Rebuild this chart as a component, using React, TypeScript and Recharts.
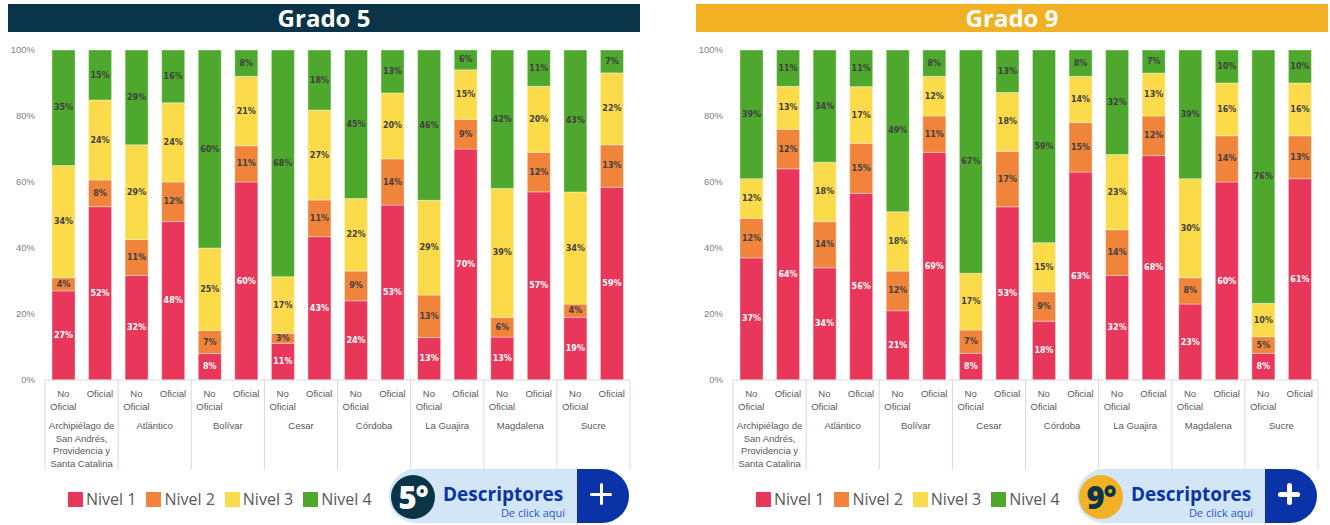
import { BarChart, Bar, XAxis, YAxis, LabelList } from 'recharts'

const departamentos = [
  'Archipiélago de San Andrés, Providencia y Santa Catalina',
  'Atlántico',
  'Bolívar',
  'Cesar',
  'Córdoba',
  'La Guajira',
  'Magdalena',
  'Sucre',
]
const sectores = ['No Oficial', 'Oficial']
const niveles = ['Nivel 1', 'Nivel 2', 'Nivel 3', 'Nivel 4']
const yTicks = [0, 0.2, 0.4, 0.6, 0.8, 1]

// order: for each departamento, No Oficial then Oficial
const grado5Nivel1 = [27, 52, 32, 48, 8, 60, 11, 43, 24, 53, 13, 70, 13, 57, 19, 59]
const grado5Nivel2 = [4, 8, 11, 12, 7, 11, 3, 11, 9, 14, 13, 9, 6, 12, 4, 13]
const grado5Nivel3 = [34, 24, 29, 24, 25, 21, 17, 27, 22, 20, 29, 15, 39, 20, 34, 22]
const grado5Nivel4 = [35, 15, 29, 16, 60, 8, 68, 18, 45, 13, 46, 6, 42, 11, 43, 7]

const grado9Nivel1 = [37, 64, 34, 56, 21, 69, 8, 53, 18, 63, 32, 68, 23, 60, 8, 61]
const grado9Nivel2 = [12, 12, 14, 15, 12, 11, 7, 17, 9, 15, 14, 12, 8, 14, 5, 13]
const grado9Nivel3 = [12, 13, 18, 17, 18, 12, 17, 18, 15, 14, 23, 13, 30, 16, 10, 16]
const grado9Nivel4 = [39, 11, 34, 11, 49, 8, 67, 13, 59, 8, 32, 7, 39, 10, 76, 10]

const colors = {
  n1: '#e8375a',
  n2: '#f0843b',
  n3: '#fcdb4b',
  n4: '#4ea82d',
  axis: '#d9d9d9',
  tickText: '#595959',
  yText: '#7f7f7f',
  darkLabel: '#404040',
  navy: '#0a3548',
  gold: '#f2b124',
  blue: '#0a33a8',
  pill: '#d3e6f8',
}
const nivelKeys = ['n1', 'n2', 'n3', 'n4']
const nivelColors = [colors.n1, colors.n2, colors.n3, colors.n4]
const labelColors = ['#ffffff', colors.darkLabel, colors.darkLabel, colors.darkLabel]

const CHART_W = 640
const CHART_H = 525
const Y_AXIS_W = 45
const MARGIN_RIGHT = 10
const PLOT_TOP = 50
const PLOT_BOTTOM = 380
const X_AXIS_H = 90
const SEP_BOTTOM = 470
const AXIS_FONT = '"Liberation Sans", Arial, sans-serif'

function buildRows(series: number[][]) {
  const rows: any[] = []
  departamentos.forEach((dep, d) => {
    sectores.forEach((sec, s) => {
      const i = d * 2 + s
      rows.push({
        id: `${dep}|${sec}`,
        departamento: dep,
        sector: sec,
        n1: series[0][i],
        n2: series[1][i],
        n3: series[2][i],
        n4: series[3][i],
      })
    })
  })
  return rows
}

function wrap(text: string, max: number) {
  const lines: string[] = []
  let cur = ''
  text.split(' ').forEach((w) => {
    if (!cur) cur = w
    else if ((cur + ' ' + w).length <= max) cur += ' ' + w
    else {
      lines.push(cur)
      cur = w
    }
  })
  if (cur) lines.push(cur)
  return lines
}

function CategoryTick(props: any) {
  const { x, index, rows } = props
  const row = rows[index]
  if (!row) return null
  const slot = (CHART_W - Y_AXIS_W - MARGIN_RIGHT) / rows.length
  const isFirst = index % 2 === 0
  const isLast = index === rows.length - 1
  const subLines = wrap(row.sector, 8)
  const groupLines = wrap(row.departamento, 15)
  return (
    <g>
      <text
        textAnchor="middle"
        fontSize={9.5}
        fontFamily={AXIS_FONT}
        fill={colors.tickText}
      >
        {subLines.map((l, i) => (
          <tspan key={i} x={x} y={PLOT_BOTTOM + 17 + i * 12.5}>
            {l}
          </tspan>
        ))}
      </text>
      {isFirst && (
        <>
          <line
            x1={x - slot / 2}
            x2={x - slot / 2}
            y1={PLOT_BOTTOM}
            y2={SEP_BOTTOM}
            stroke={colors.axis}
          />
          <text
            textAnchor="middle"
            fontSize={9.5}
            fontFamily={AXIS_FONT}
            fill={colors.tickText}
          >
            {groupLines.map((l, i) => (
              <tspan key={i} x={x + slot / 2} y={PLOT_BOTTOM + 49 + i * 12.5}>
                {l}
              </tspan>
            ))}
          </text>
        </>
      )}
      {isLast && (
        <line
          x1={x + slot / 2}
          x2={x + slot / 2}
          y1={PLOT_BOTTOM}
          y2={SEP_BOTTOM}
          stroke={colors.axis}
        />
      )}
    </g>
  )
}

function renderLabel(p: any, rows: any[], key: string, fill: string) {
  const vb = p.viewBox ?? p
  const value = typeof p.value === 'number' ? p.value : rows[p.index]?.[key]
  if (vb == null || value == null) return null
  const cx = vb.x + vb.width / 2
  const cy = vb.y + vb.height / 2
  return (
    <text
      x={cx}
      y={cy}
      textAnchor="middle"
      dominantBaseline="central"
      fontSize={8}
      fontWeight="bold"
      fontFamily='"DejaVu Sans", Verdana, sans-serif'
      fill={fill}
    >
      {`${value}%`}
    </text>
  )
}

interface PanelProps {
  left: number
  title: string
  headerBg: string
  series: number[][]
  badgeText: string
  badgeBg: string
  badgeColor: string
  plusWeight: number
}

function Panel({ left, title, headerBg, series, badgeText, badgeBg, badgeColor, plusWeight }: PanelProps) {
  const rows = buildRows(series)
  return (
    <div style={{ position: 'absolute', left, top: 0, width: CHART_W, height: CHART_H }}>
      <div
        style={{
          position: 'absolute',
          left: 8,
          top: 4,
          width: 632,
          height: 28,
          background: headerBg,
          color: '#ffffff',
          fontFamily: '"Open Sans", sans-serif',
          fontWeight: 700,
          fontSize: 24,
          lineHeight: '28px',
          textAlign: 'center',
        }}
      >
        {title}
      </div>

      <div style={{ position: 'absolute', left: 0, top: 0 }}>
        <BarChart
          width={CHART_W}
          height={CHART_H}
          data={rows}
          stackOffset="expand"
          margin={{ top: PLOT_TOP, right: MARGIN_RIGHT, bottom: CHART_H - PLOT_BOTTOM - X_AXIS_H, left: 0 }}
        >
          <XAxis
            dataKey="id"
            height={X_AXIS_H}
            interval={0}
            tickLine={false}
            axisLine={{ stroke: colors.axis }}
            tick={(p: any) => <CategoryTick {...p} rows={rows} />}
          />
          <YAxis
            width={Y_AXIS_W}
            domain={[0, 1]}
            ticks={yTicks}
            axisLine={false}
            tickLine={false}
            tickMargin={4}
            tickFormatter={(v: number) => `${Math.round(v * 100)}%`}
            tick={{ fontSize: 9.5, fill: colors.yText, fontFamily: AXIS_FONT }}
          />
          {nivelKeys.map((k, j) => (
            <Bar
              key={k}
              dataKey={k}
              name={niveles[j]}
              stackId="a"
              fill={nivelColors[j]}
              stroke="#ffffff"
              strokeOpacity={0.45}
              strokeWidth={0.8}
              barSize={23}
              isAnimationActive={false}
            >
              <LabelList dataKey={k} content={(p: any) => renderLabel(p, rows, k, labelColors[j])} />
            </Bar>
          ))}
        </BarChart>
      </div>

      {/* legend */}
      <div
        style={{
          position: 'absolute',
          left: 68,
          top: 488,
          display: 'flex',
          alignItems: 'center',
          gap: 10,
          fontFamily: '"Open Sans", sans-serif',
          fontSize: 16,
          color: colors.tickText,
          height: 22,
        }}
      >
        {niveles.map((n, j) => (
          <div key={n} style={{ display: 'flex', alignItems: 'center', gap: 3 }}>
            <div style={{ width: 15, height: 15, background: nivelColors[j] }} />
            <span>{n}</span>
          </div>
        ))}
      </div>

      {/* descriptores button */}
      <div
        style={{
          position: 'absolute',
          left: 389,
          top: 469,
          width: 240,
          height: 54,
          borderRadius: 27,
          background: colors.pill,
          overflow: 'hidden',
          fontFamily: '"Open Sans", sans-serif',
        }}
      >
        <div
          style={{
            position: 'absolute',
            left: 2,
            top: 6,
            width: 44,
            height: 44,
            borderRadius: 22,
            background: badgeBg,
            color: badgeColor,
            fontWeight: 800,
            fontSize: 31,
            lineHeight: '44px',
            textAlign: 'center',
            letterSpacing: -1,
          }}
        >
          {badgeText}
        </div>
        <div
          style={{
            position: 'absolute',
            left: 54,
            top: 15,
            fontWeight: 700,
            fontSize: 19,
            lineHeight: '21px',
            color: colors.blue,
          }}
        >
          Descriptores
        </div>
        <div
          style={{
            position: 'absolute',
            right: 64,
            top: 38,
            fontSize: 11,
            lineHeight: '12px',
            color: '#2a55c4',
          }}
        >
          De click aquí
        </div>
        <div
          style={{
            position: 'absolute',
            left: 188,
            top: 0,
            width: 52,
            height: 54,
            background: colors.blue,
          }}
        >
          <div
            style={{
              position: 'absolute',
              left: 13,
              top: 25 - plusWeight / 2,
              width: 22,
              height: plusWeight,
              borderRadius: plusWeight / 2,
              background: '#ffffff',
            }}
          />
          <div
            style={{
              position: 'absolute',
              left: 24 - plusWeight / 2,
              top: 14,
              width: plusWeight,
              height: 22,
              borderRadius: plusWeight / 2,
              background: '#ffffff',
            }}
          />
        </div>
      </div>
    </div>
  )
}

export default function App() {
  return (
    <div
      style={{
        position: 'absolute',
        left: 0,
        top: 0,
        width: 1330,
        height: 525,
        background: '#ffffff',
        overflow: 'hidden',
      }}
    >
      <Panel
        left={0}
        title="Grado 5"
        headerBg={colors.navy}
        series={[grado5Nivel1, grado5Nivel2, grado5Nivel3, grado5Nivel4]}
        badgeText="5°"
        badgeBg={colors.navy}
        badgeColor="#ffffff"
        plusWeight={3}
      />
      <Panel
        left={688}
        title="Grado 9"
        headerBg={colors.gold}
        series={[grado9Nivel1, grado9Nivel2, grado9Nivel3, grado9Nivel4]}
        badgeText="9°"
        badgeBg={colors.gold}
        badgeColor={colors.navy}
        plusWeight={5}
      />
    </div>
  )
}
